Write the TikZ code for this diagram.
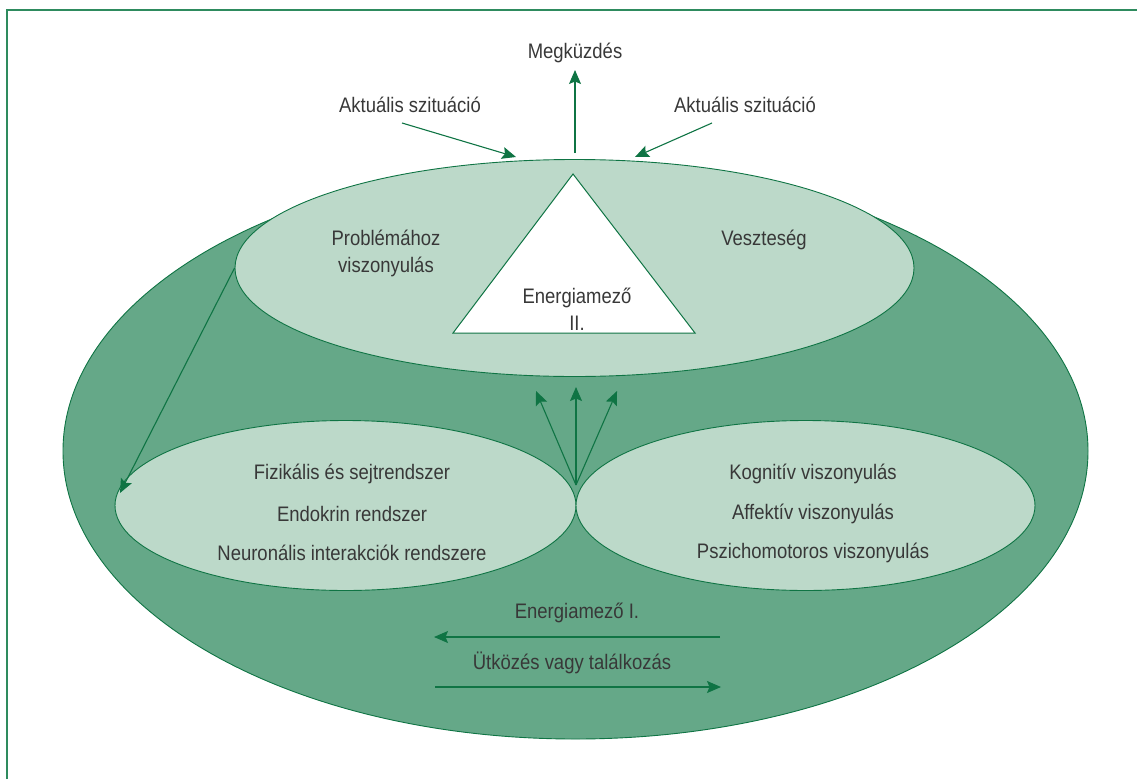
\documentclass[tikz,border=0pt]{standalone}
\usepackage{fontspec}
\setmainfont{Liberation Sans}[FakeStretch=0.88]
\usetikzlibrary{shapes.geometric,arrows.meta}
\definecolor{edgegreen}{HTML}{0F7444}
\definecolor{framegreen}{HTML}{2E8B5E}
\definecolor{darkfill}{HTML}{65A888}
\definecolor{lightfill}{HTML}{BCD9C9}
\definecolor{txt}{HTML}{383838}
\tikzset{
  oval/.style={ellipse, draw=edgegreen, line width=0.9pt, inner sep=0pt},
  lbl/.style={text=txt, font=\fontsize{21}{26}\selectfont, align=center, inner sep=0pt},
  arr/.style={draw=edgegreen, line width=1.1pt, -{Stealth[length=14pt,width=12pt,inset=2.5pt]}},
}
\begin{document}
\begin{tikzpicture}[x=1pt,y=-1pt]
\useasboundingbox (0,0) rectangle (1137,779);
\draw[framegreen, line width=2.2pt] (7,779) -- (7,10) -- (1137,10);
% ellipses
\node[oval, fill=darkfill, minimum width=1025pt, minimum height=576pt] (big) at (575.5,451) {};
\node[oval, fill=lightfill, minimum width=679pt, minimum height=217pt] (top) at (574.5,268) {};
\node[oval, fill=lightfill, minimum width=461pt, minimum height=170pt] (botL) at (345.5,505.5) {};
\node[oval, fill=lightfill, minimum width=459pt, minimum height=170pt] (botR) at (805.5,505.5) {};
% triangle
\coordinate (tA) at (573,174);
\coordinate (tB) at (453,333);
\coordinate (tC) at (695,333);
\draw[edgegreen, fill=white, line width=1pt] (tA) -- (tB) -- (tC) -- cycle;
% labels
\node[lbl, text width=200pt] (prob) at (386,253) {Problémához\\[1pt]viszonyulás};
\node[lbl] (meg) at (575,53) {Megküzdés};
\node[lbl] (aktL) at (410,105) {Aktuális szituáció};
\node[lbl] (aktR) at (745,105) {Aktuális szituáció};
\node[lbl] (vesz) at (764,240) {Veszteség};
\node[lbl] (en2) at (577,309) {Energiamező\\[1pt]II.};
\node[lbl] (l1) at (352,474) {Fizikális és sejtrendszer};
\node[lbl] (l2) at (352,514) {Endokrin rendszer};
\node[lbl] (l3) at (352,553) {Neuronális interakciók rendszere};
\node[lbl] (r1) at (813,474) {Kognitív viszonyulás};
\node[lbl] (r2) at (813,514) {Affektív viszonyulás};
\node[lbl] (r3) at (813,553) {Pszichomotoros viszonyulás};
\node[lbl] (en1) at (577,613) {Energiamező I.};
\node[lbl] (utk) at (572,663) {Ütközés vagy találkozás};
% arrow coordinates
\coordinate (megS) at (575,153);
\coordinate (megE) at (575,70);
\coordinate (aLS) at (402,123);
\coordinate (aLE) at (516,157);
\coordinate (aRS) at (712,123);
\coordinate (aRE) at (635,157);
\coordinate (fan) at (576,485);
\coordinate (f1) at (536,391);
\coordinate (f2) at (576,387);
\coordinate (f3) at (617,391);
\coordinate (diagE) at (120,493);
\coordinate (b1S) at (720,637);
\coordinate (b1E) at (434,637);
\coordinate (b2S) at (435,687);
\coordinate (b2E) at (721,687);
% arrows
\draw[arr] (megS) -- (megE);
\draw[arr] (aLS) -- (aLE);
\draw[arr] (aRS) -- (aRE);
\draw[arr] (fan) -- (f1);
\draw[arr] (fan) -- (f2);
\draw[arr] (fan) -- (f3);
\draw[arr] (top.west) -- (diagE);
\draw[arr] (b1S) -- (b1E);
\draw[arr] (b2S) -- (b2E);
\end{tikzpicture}
\end{document}
